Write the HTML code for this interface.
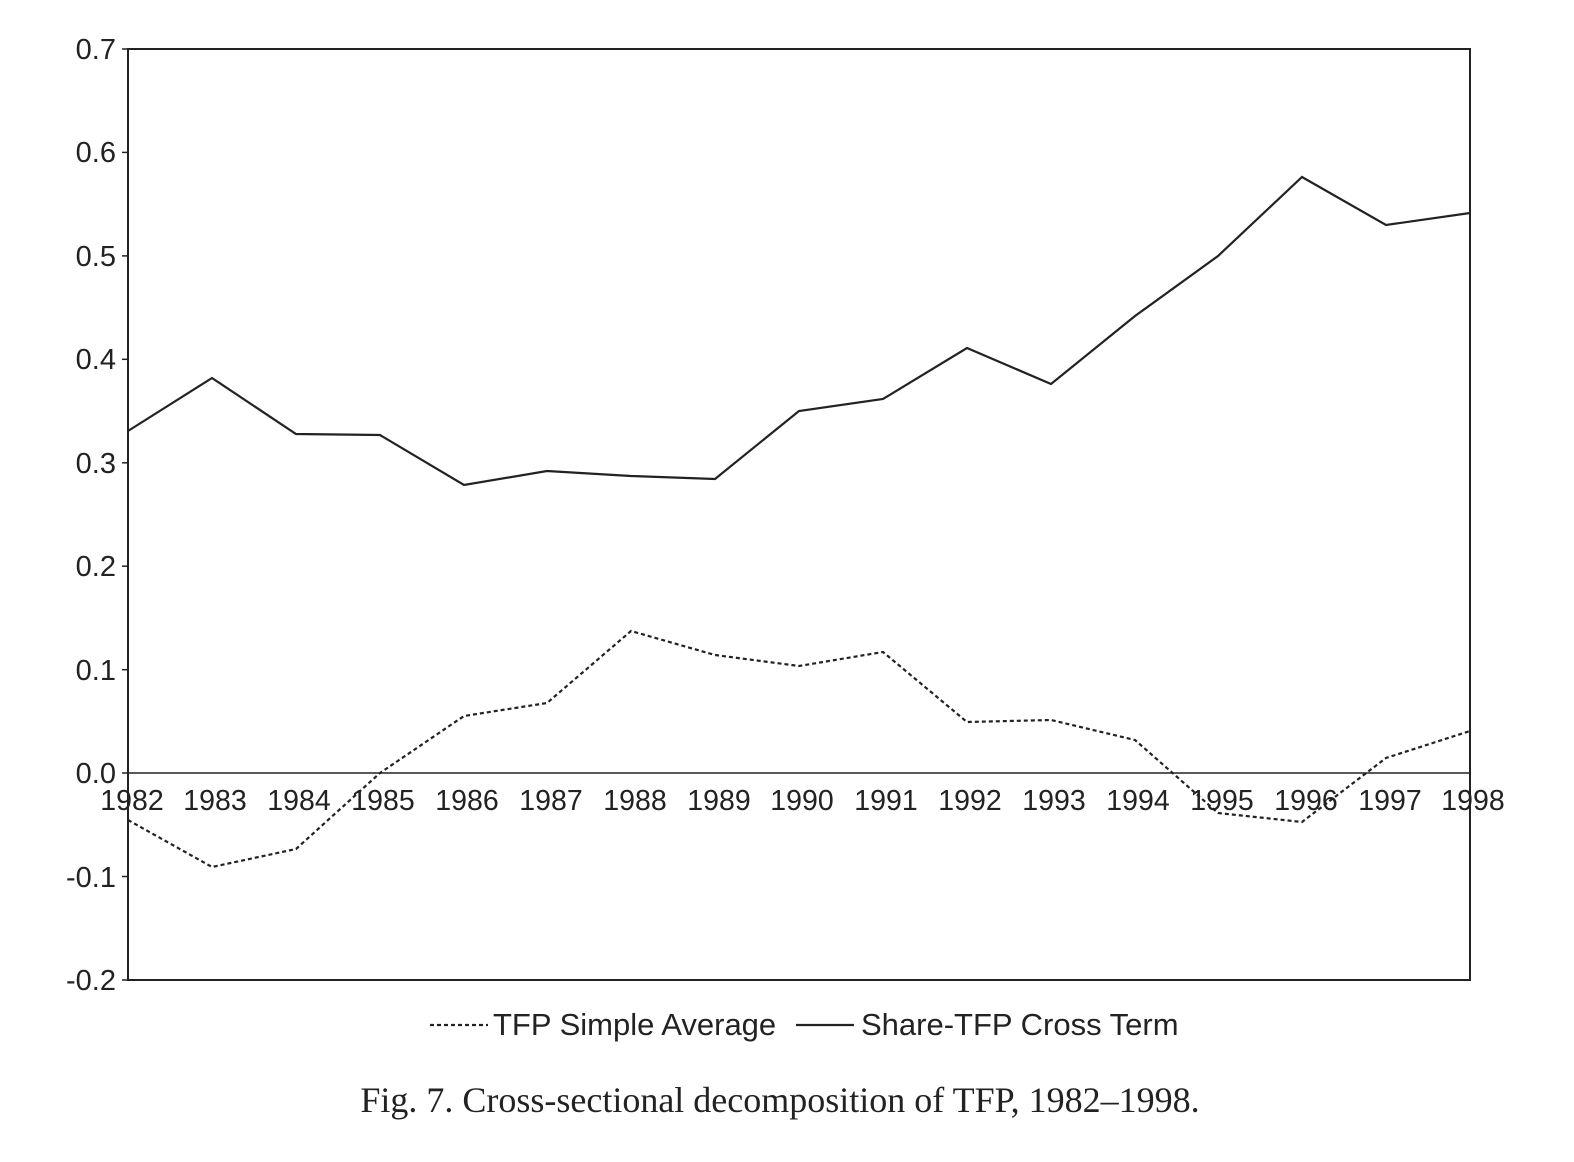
<!DOCTYPE html>
<html><head><meta charset="utf-8"><style>
body{margin:0;background:#fff}
svg{display:block}
</style></head><body>
<svg width="1574" height="1162" viewBox="0 0 1574 1162" xmlns="http://www.w3.org/2000/svg">
<rect x="0" y="0" width="1574" height="1162" fill="#fff"/>
<rect x="128" y="49" width="1342" height="931" fill="none" stroke="#222" stroke-width="2"/>
<line x1="128" y1="773" x2="1470" y2="773" stroke="#222" stroke-width="1.5"/>
<g stroke="#222" stroke-width="1.5">
<line x1="122" y1="49" x2="128" y2="49"/><line x1="122" y1="152.4" x2="128" y2="152.4"/>
<line x1="122" y1="255.9" x2="128" y2="255.9"/><line x1="122" y1="359.3" x2="128" y2="359.3"/>
<line x1="122" y1="462.8" x2="128" y2="462.8"/><line x1="122" y1="566.2" x2="128" y2="566.2"/>
<line x1="122" y1="669.7" x2="128" y2="669.7"/><line x1="122" y1="773" x2="128" y2="773"/>
<line x1="122" y1="876.5" x2="128" y2="876.5"/><line x1="122" y1="980" x2="128" y2="980"/>
</g>
<g font-family="Liberation Sans, sans-serif" font-size="29" fill="#222" text-anchor="end">
<text x="116" y="59">0.7</text><text x="116" y="162">0.6</text><text x="116" y="266">0.5</text>
<text x="116" y="369">0.4</text><text x="116" y="473">0.3</text><text x="116" y="576">0.2</text>
<text x="116" y="680">0.1</text><text x="116" y="783">0.0</text><text x="116" y="887">-0.1</text>
<text x="116" y="990">-0.2</text>
</g>
<g font-family="Liberation Sans, sans-serif" font-size="28.5" fill="#222" text-anchor="middle">
<text x="132" y="810">1982</text><text x="215" y="810">1983</text><text x="299" y="810">1984</text>
<text x="383" y="810">1985</text><text x="467" y="810">1986</text><text x="551" y="810">1987</text>
<text x="635" y="810">1988</text><text x="719" y="810">1989</text><text x="802" y="810">1990</text>
<text x="886" y="810">1991</text><text x="970" y="810">1992</text><text x="1054" y="810">1993</text>
<text x="1138" y="810">1994</text><text x="1222" y="810">1995</text><text x="1306" y="810">1996</text>
<text x="1390" y="810">1997</text><text x="1473" y="810">1998</text>
</g>
<polyline fill="none" stroke="#222" stroke-width="2.2" points="128,431 212,378 296,434 380,435 464,485 547,471 631,476 715,479 799,411 883,399 967,348 1051,384 1135,316 1218,256 1302,177 1386,225 1470,213"/>
<polyline fill="none" stroke="#222" stroke-width="2.2" stroke-dasharray="4,3" points="128,820 212,867 296,849 380,773 464,716 547,703 631,631 715,655 799,666 883,652 967,722 1051,720 1135,740 1218,813 1302,822 1386,758 1470,731"/>
<line x1="430" y1="1025" x2="488" y2="1025" stroke="#222" stroke-width="2.2" stroke-dasharray="4,3"/>
<text x="493" y="1035" font-family="Liberation Sans, sans-serif" font-size="31" fill="#222">TFP Simple Average</text>
<line x1="796" y1="1025" x2="854" y2="1025" stroke="#222" stroke-width="2.2"/>
<text x="861" y="1035" font-family="Liberation Sans, sans-serif" font-size="31" fill="#222">Share-TFP Cross Term</text>
<text x="780" y="1112" text-anchor="middle" font-family="Liberation Serif, serif" font-size="36" fill="#222">Fig. 7. Cross-sectional decomposition of TFP, 1982–1998.</text>
</svg>
</body></html>
